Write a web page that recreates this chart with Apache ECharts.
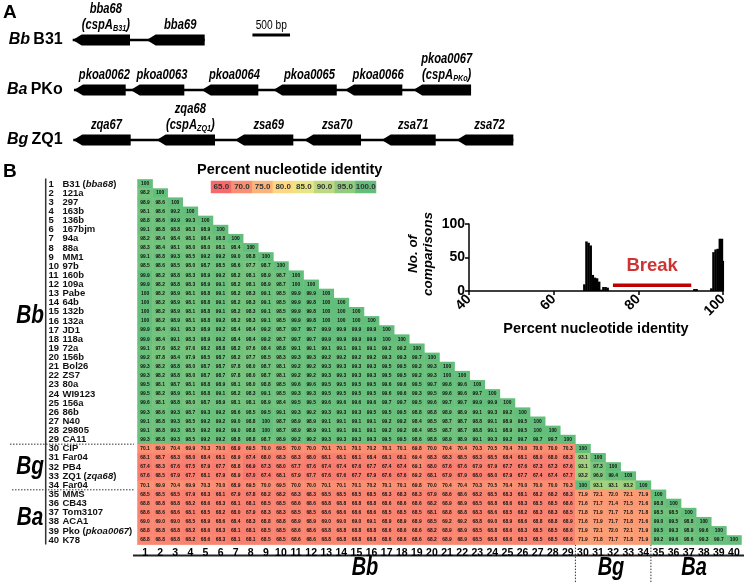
<!DOCTYPE html>
<html><head><meta charset="utf-8">
<script src="https://cdn.jsdelivr.net/npm/echarts@6/dist/echarts.min.js"></script>
<style>html,body{margin:0;padding:0;background:#fff}#c{width:744px;height:583px}</style>
</head><body><div id="c"></div>
<script>
const F = '"Liberation Sans", Arial, Helvetica, sans-serif';

// ---------- Panel A : gene maps (positions in bp) ----------
const operonRows = ['Bb|B31', 'Ba|PKo', 'Bg|ZQ1'];
const backboneStart = [0, 17, 8];
const backboneEnd = [1755, 5297, 5859];
const geneNames = ['bba68','bba69','pkoa0062','pkoa0063','pkoa0064','pkoa0065','pkoa0066','pkoa0067','zqa67','zqa68','zsa69','zsa70','zsa71','zsa72'];
const geneCspA  = ['B31','','','','','','','PKo','','ZQ1','','','',''];
const geneRow   = [0,0,1,1,1,1,1,1,2,2,2,2,2,2];
const geneStart = [0,984,17,771,1715,2668,3621,4529,8,1117,2158,3080,4109,5106];
const geneEnd   = [762,1755,705,1484,2468,3511,4383,5297,771,1892,2934,3834,4827,5859];
const scaleBarBp = [2390, 2890];
const scaleBarLabel = '500 bp';

// ---------- Panel B : identity matrix ----------
const strainNames = ['B31','121a','297','163b','136b','167bjm','94a','88a','MM1','97b','160b','109a','Pabe','64b','132b','132a','JD1','118a','72a','156b','Bol26','ZS7','80a','WI9123','156a','86b','N40','29805','CA11','CIP','Far04','PB4','ZQ1','Far04','MMS','CB43','Tom3107','ACA1','Pko','K78'];
const strainGenes = ['bba68','','','','','','','','','','','','','','','','','','','','','','','','','','','','','','','','zqa68','','','','','','pkoa0067',''];
const identityRows = [
[100],
[98.2,100],
[98.9,98.6,100],
[98.1,98.6,99.2,100],
[98.8,98.6,99.9,99.3,100],
[99.1,98.8,98.8,98.3,98.9,100],
[98.2,98.4,98.4,98.1,98.4,98.8,100],
[98.3,98.4,98.1,98.0,98.0,98.1,98.4,100],
[99.1,98.8,99.3,98.5,99.2,99.2,99.0,98.8,100],
[98.5,98.6,98.5,98.0,98.7,98.5,98.6,97.7,98.7,100],
[99.9,98.2,98.8,98.3,98.9,99.2,98.2,98.1,98.9,98.7,100],
[99.9,98.2,98.8,98.3,98.9,99.1,98.2,98.1,98.9,98.7,100,100],
[100,98.2,98.9,98.1,98.8,99.1,98.2,98.3,99.1,98.5,99.9,99.9,100],
[100,98.2,98.9,98.1,98.8,99.1,98.2,98.3,99.1,98.5,99.9,99.8,100,100],
[100,98.2,98.9,98.1,98.8,99.1,98.2,98.3,99.1,98.5,99.9,99.8,100,100,100],
[100,98.2,98.9,98.1,98.8,99.2,98.2,98.3,99.1,98.5,99.9,99.8,100,100,100,100],
[99.9,98.4,99.1,98.3,98.9,99.2,98.4,98.4,99.2,98.7,99.7,99.7,99.9,99.9,99.9,99.9,100],
[99.9,98.4,99.1,98.3,98.9,99.2,98.4,98.4,99.2,98.7,99.7,99.7,99.9,99.9,99.9,99.9,100,100],
[99.1,97.6,98.2,97.6,98.2,98.8,98.2,97.6,98.4,98.8,99.1,99.1,99.1,99.1,99.1,99.1,99.2,99.2,100],
[99.2,97.8,98.4,97.9,98.5,98.7,98.2,97.7,98.5,98.3,99.3,99.3,99.2,99.2,99.2,99.2,99.3,99.3,99.7,100],
[99.3,98.2,98.8,98.0,98.7,98.7,97.8,98.0,98.7,98.1,99.2,99.2,99.3,99.3,99.3,99.3,99.5,99.5,99.2,99.3,100],
[99.3,98.2,98.8,98.0,98.7,98.7,97.8,98.0,98.7,98.1,99.2,99.2,99.3,99.3,99.3,99.3,99.5,99.5,99.2,99.3,100,100],
[99.5,98.1,98.7,98.1,98.8,98.9,98.1,98.0,98.8,98.5,99.6,99.6,99.5,99.5,99.5,99.5,99.6,99.6,99.5,99.7,99.6,99.6,100],
[99.5,98.2,98.9,98.1,98.8,99.1,98.2,98.3,99.1,98.5,99.3,99.3,99.5,99.5,99.5,99.5,99.6,99.6,99.3,99.5,99.6,99.6,99.7,100],
[99.6,98.1,98.8,98.0,98.7,98.9,98.1,98.1,98.9,98.4,99.5,99.5,99.6,99.6,99.6,99.6,99.7,99.7,99.5,99.6,99.7,99.7,99.9,99.9,100],
[99.3,98.6,99.3,98.7,99.3,99.2,98.6,98.5,99.5,99.1,99.3,99.2,99.3,99.3,99.3,99.5,99.5,99.5,98.8,98.8,98.9,98.9,99.1,99.3,99.2,100],
[99.1,98.8,99.3,98.5,99.2,99.2,99.0,98.8,100,98.7,98.9,98.9,99.1,99.1,99.1,99.1,99.2,99.2,98.4,98.5,98.7,98.7,98.8,99.1,98.9,99.5,100],
[99.1,98.8,99.3,98.5,99.2,99.2,99.0,98.8,100,98.7,98.9,98.9,99.1,99.1,99.1,99.1,99.2,99.2,98.4,98.5,98.7,98.7,98.8,99.1,98.9,99.5,100,100],
[99.3,98.8,99.3,98.5,99.2,99.2,98.8,98.8,98.7,98.9,99.2,99.2,99.3,99.3,99.3,99.3,99.5,99.5,98.6,98.8,98.9,98.9,99.1,99.3,99.2,99.7,99.7,99.7,100],
[70.1,69.9,70.4,69.9,70.3,70.0,68.9,69.5,70.0,69.5,70.0,70.0,70.1,70.1,70.1,70.2,70.1,70.1,69.8,70.0,70.4,70.4,70.3,70.5,70.4,70.0,70.0,70.0,70.3,100],
[68.1,68.7,68.3,68.0,68.4,68.1,68.9,67.4,68.0,68.3,68.3,68.0,68.1,68.1,68.1,68.4,68.1,68.1,69.4,68.3,68.3,68.5,68.3,68.5,68.4,68.1,68.0,68.0,68.3,93.1,100],
[67.4,68.3,67.6,67.5,67.9,67.7,68.8,66.9,67.3,68.0,67.7,67.6,67.4,67.4,67.6,67.7,67.4,67.4,69.1,68.0,67.6,67.6,67.9,67.9,67.7,67.6,67.3,67.3,67.6,93.1,97.3,100],
[67.6,68.5,67.9,67.7,68.1,67.9,68.9,67.0,67.4,68.1,67.9,67.7,67.6,67.6,67.7,67.9,67.6,67.6,69.2,68.1,67.9,67.9,68.0,68.0,67.9,67.7,67.4,67.4,67.7,93.2,96.9,99.4,100],
[70.1,69.9,70.4,69.9,70.3,70.0,68.9,69.5,70.0,69.5,70.0,70.0,70.1,70.1,70.1,70.2,70.1,70.1,69.8,70.0,70.4,70.4,70.3,70.5,70.4,70.0,70.0,70.0,70.3,100,93.1,93.1,93.2,100],
[68.5,68.5,68.5,67.9,68.3,68.1,67.9,67.8,68.2,68.2,68.3,68.3,68.5,68.5,68.5,68.5,68.3,68.3,68.3,67.9,68.6,68.6,68.2,68.5,68.3,68.1,68.2,68.2,68.3,71.9,72.1,72.0,72.1,71.9,100],
[68.8,68.8,68.8,68.2,68.6,68.3,68.1,68.1,68.5,68.5,68.6,68.6,68.8,68.8,68.8,68.8,68.6,68.6,68.6,68.2,68.9,68.9,68.5,68.8,68.6,68.3,68.5,68.5,68.6,71.6,71.7,71.4,71.5,71.6,98.8,100],
[68.6,68.6,68.6,68.1,68.5,68.2,68.0,67.9,68.3,68.3,68.5,68.5,68.6,68.6,68.6,68.6,68.5,68.5,68.5,68.1,68.8,68.8,68.3,68.6,68.5,68.2,68.3,68.3,68.5,71.8,71.9,71.7,71.8,71.8,98.5,98.5,100],
[69.0,69.0,69.0,68.5,68.9,68.6,68.4,68.3,68.8,68.8,68.9,68.9,69.0,69.0,69.0,69.1,68.9,68.9,68.9,68.5,69.2,69.2,68.8,69.0,68.9,68.6,68.8,68.8,68.9,71.6,71.9,71.7,71.8,71.6,99.0,99.5,98.8,100],
[68.8,68.8,68.8,68.2,68.6,68.3,68.1,68.1,68.5,68.5,68.6,68.6,68.8,68.8,68.8,68.8,68.6,68.6,68.6,68.2,68.9,68.9,68.5,68.8,68.6,68.3,68.5,68.5,68.6,71.9,72.1,72.0,72.1,71.9,99.5,99.3,98.9,99.6,100],
[68.8,68.8,68.8,68.2,68.6,68.3,68.1,68.1,68.5,68.5,68.6,68.6,68.8,68.8,68.8,68.8,68.6,68.6,68.6,68.2,68.9,68.9,68.5,68.8,68.6,68.3,68.5,68.5,68.6,71.9,71.8,71.7,71.8,71.9,99.2,99.6,98.6,99.3,99.7,100]
];
const groupNames = ['Bb','Bg','Ba'];
const groupEndRow = [29, 34, 40];
const legendSteps = [65,70,75,80,85,90,95,100];
const colorStops = ['#F8696B','#FFEB84','#63BE7B'];

// ---------- inset histogram ----------
const histX = [67.25,67.75,68.25,68.75,69.25,69.75,70.25,70.75,71.25,71.75,72.25,72.75,93.25,93.75,97.25,97.75,98.25,98.75,99.25,99.75,100];
const histCount = [10,74,72,68,24,20,19,14,2,6,6,5,3,3,4,58,62,63,78,78,45];
const breakSpan = [74, 92.5];
const breakLevel = 8.5;

// ---------- layout ----------
const HM = {left:137.5, top:179.4, width:604, height:365.2};
const cellW = HM.width / 40, cellH = HM.height / 40;
const HI = {left:469, top:224, width:254, height:67};
const NARROW = 0.8;
const RED = '#C00000';

const heatData = [];
identityRows.forEach((row, i) => row.forEach((v, j) => heatData.push([j, i, v])));
const fmt = v => (v === 100 ? '100' : v.toFixed(1));

const richA = {
  a: {fontFamily:F, fontSize:14, fontWeight:'bold', fontStyle:'italic', fill:'#000', lineHeight:16},
  s: {fontFamily:F, fontSize:9, fontWeight:'bold', fontStyle:'italic', fill:'#000', verticalAlign:'bottom', lineHeight:16}
};

const chart = echarts.init(document.getElementById('c'));
const boldBlack = {fontFamily:F, fontWeight:'bold', color:'#000'};
const narrowText = (txt, x, y, font) => ({type:'text', x:x, y:y, scaleX:NARROW,
  style:{text:txt, x:0, y:0, align:'center', verticalAlign:'middle', fill:'#000', font:font}});

const option = {
  animation: false,
  textStyle: {fontFamily: F},
  title: [
    {text:'A', left:3, top:3, padding:0, textStyle:{...boldBlack, fontSize:19}},
    {text:'B', left:3, top:162, padding:0, textStyle:{...boldBlack, fontSize:19}},
    {text:'Percent nucleotide identity', left:197, top:162, padding:0, textStyle:{...boldBlack, fontSize:14.5}}
  ],
  grid: [
    {left:72.7, top:15, width:451.2, height:150},
    {left:HM.left, top:HM.top, width:HM.width, height:HM.height},
    {left:211, top:181, width:165, height:12},
    {left:HI.left, top:HI.top, width:HI.width, height:HI.height}
  ],
  xAxis: [
    {gridIndex:0, type:'value', min:0, max:6000, show:false},
    {gridIndex:1, type:'category', data: strainNames.map((s,i)=>String(i+1)),
     axisLine:{show:false}, axisTick:{show:false}, splitLine:{show:false},
     axisLabel:{interval:0, margin:3, fontSize:10.5, fontWeight:'bold', color:'#000', fontFamily:F}},
    {gridIndex:2, type:'category', data: legendSteps.map(String), show:false},
    {gridIndex:3, type:'value', min:40, max:100, interval:20,
     axisLine:{lineStyle:{color:'#000', width:1.5}}, axisTick:{show:true, length:4, lineStyle:{color:'#000', width:1.5}},
     splitLine:{show:false},
     axisLabel:{rotate:45, margin:6, fontSize:14, fontWeight:'bold', color:'#000', fontFamily:F},
     name:'Percent nucleotide identity', nameLocation:'middle', nameGap:30,
     nameTextStyle:{fontSize:14.5, fontWeight:'bold', color:'#000', fontFamily:F}}
  ],
  yAxis: [
    {gridIndex:0, type:'category', inverse:true, data: operonRows,
     axisLine:{show:false}, axisTick:{show:false},
     axisLabel:{margin:10, formatter: v => { const p = v.split('|'); return '{i|' + p[0] + '} {r|' + p[1] + '}'; },
       rich:{i:{fontFamily:F, fontSize:16, fontWeight:'bold', fontStyle:'italic', color:'#000'},
             r:{fontFamily:F, fontSize:16, fontWeight:'bold', color:'#000'}}}},
    {gridIndex:1, type:'category', inverse:true, data: strainNames,
     axisLine:{show:false}, axisTick:{show:false},
     axisLabel:{interval:0, align:'left', margin: HM.left - 48.5,
       formatter:(v, idx) => '{n|' + (idx+1) + '}{t|' + v + '}' + (strainGenes[idx] ? '{t| (}{g|' + strainGenes[idx] + '}{t|)}' : ''),
       rich:{n:{width:14, fontFamily:F, fontSize:9.5, fontWeight:'bold', color:'#111'},
             t:{fontFamily:F, fontSize:9.5, fontWeight:'bold', color:'#111'},
             g:{fontFamily:F, fontSize:9.5, fontWeight:'bold', fontStyle:'italic', color:'#111'}}}},
    {gridIndex:2, type:'category', data:['k'], show:false},
    {gridIndex:3, type:'value', min:0, max:100, interval:50,
     axisLine:{show:true, lineStyle:{color:'#000', width:1.5}}, axisTick:{show:true, length:4, lineStyle:{color:'#000', width:1.5}},
     splitLine:{show:false},
     axisLabel:{margin:4, fontSize:14, fontWeight:'bold', color:'#000', fontFamily:F}}
  ],
  visualMap: {
    type:'continuous', show:false, min:65, max:100, dimension:2, seriesIndex:[3,4],
    inRange:{color: colorStops}
  },
  series: [
    { // backbone lines
      type:'custom', xAxisIndex:0, yAxisIndex:0, clip:false,
      data: operonRows.map((r,i)=>[backboneStart[i], backboneEnd[i], i]),
      encode:{x:[0,1], y:2},
      renderItem:(params, api) => {
        const a = api.coord([api.value(0), api.value(2)]);
        const b = api.coord([api.value(1), api.value(2)]);
        return {type:'line', shape:{x1:a[0], y1:a[1], x2:b[0], y2:b[1]}, style:{stroke:'#000', lineWidth:2.5}};
      }
    },
    { // genes
      type:'custom', xAxisIndex:0, yAxisIndex:0, clip:false,
      data: geneNames.map((g,i)=>[geneStart[i], geneEnd[i], geneRow[i], i]),
      encode:{x:[0,1], y:2},
      renderItem:(params, api) => {
        const i = api.value(3);
        const s = api.coord([api.value(0), api.value(2)]);
        const e = api.coord([api.value(1), api.value(2)]);
        const h = 5.5, head = 9, y = s[1];
        let txt = '{a|' + geneNames[i] + '}';
        if (geneCspA[i]) txt += '\n{a|(cspA}{s|' + geneCspA[i] + '}{a|)}';
        return {type:'group', children:[
          {type:'polygon', shape:{points:[[s[0], y],[s[0]+head, y-h],[e[0], y-h],[e[0], y+h],[s[0]+head, y+h]]}, style:{fill:'#000'}},
          {type:'text', x:(s[0]+head+e[0])/2, y:y-h-1, scaleX:NARROW,
           style:{text:txt, x:0, y:0, align:'center', verticalAlign:'bottom', rich:richA, fill:'#000', font:'bold italic 14px ' + F}}
        ]};
      }
    },
    { // scale bar
      type:'custom', xAxisIndex:0, yAxisIndex:0, clip:false,
      data:[[scaleBarBp[0], scaleBarBp[1], 0]],
      encode:{x:[0,1], y:2},
      renderItem:(params, api) => {
        const a = api.coord([api.value(0), api.value(2)]);
        const b = api.coord([api.value(1), api.value(2)]);
        const y = a[1] - 5;
        return {type:'group', children:[
          {type:'line', shape:{x1:a[0], y1:y, x2:b[0], y2:y}, style:{stroke:'#000', lineWidth:3}},
          {type:'text', x:(a[0]+b[0])/2, y:y-3, scaleX:0.85,
           style:{text:scaleBarLabel, x:0, y:0, align:'center', verticalAlign:'bottom', fill:'#000', font:'12px ' + F}}
        ]};
      }
    },
    { // identity heatmap
      type:'heatmap', xAxisIndex:1, yAxisIndex:1, data: heatData,
      label:{show:true, formatter:p => fmt(p.value[2]), fontSize:4.9, fontWeight:'bold', color:'#111', fontFamily:F},
      itemStyle:{borderWidth:0}, emphasis:{disabled:true}
    },
    { // colour key
      type:'heatmap', xAxisIndex:2, yAxisIndex:2, data: legendSteps.map((v,i)=>[i,0,v]),
      label:{show:true, formatter:p => p.value[2].toFixed(1), fontSize:8, fontWeight:'bold', color:'#333', fontFamily:F},
      emphasis:{disabled:true}
    },
    { // histogram
      type:'bar', xAxisIndex:3, yAxisIndex:3, barWidth:2.5, itemStyle:{color:'#000'},
      data: histX.map((x,i)=>[x, histCount[i]])
    },
    { // break line
      type:'line', xAxisIndex:3, yAxisIndex:3, symbol:'none',
      lineStyle:{color:RED, width:3.5},
      data: breakSpan.map(x=>[x, breakLevel])
    },
    { // break label
      type:'scatter', xAxisIndex:3, yAxisIndex:3, symbolSize:0,
      data:[[(breakSpan[0]+breakSpan[1])/2, 37]],
      label:{show:true, position:'inside', formatter:'Break', fontSize:18.5, fontWeight:'bold', color:RED, fontFamily:F}
    }
  ],
  graphic: [
    {type:'line', shape:{x1:45.7, y1:HM.top - 1, x2:45.7, y2:HM.top + HM.height}, style:{stroke:'#333', lineWidth:1.5}},
    {type:'line', shape:{x1:10, y1:HM.top + groupEndRow[0]*cellH, x2:134, y2:HM.top + groupEndRow[0]*cellH}, style:{stroke:'#333', lineWidth:1, lineDash:[1.5,1.5]}},
    {type:'line', shape:{x1:12, y1:HM.top + groupEndRow[1]*cellH, x2:134, y2:HM.top + groupEndRow[1]*cellH}, style:{stroke:'#333', lineWidth:1, lineDash:[1.5,1.5]}},
    narrowText(groupNames[0], 30, 316, 'italic bold 26px ' + F),
    narrowText(groupNames[1], 30, 467, 'italic bold 26px ' + F),
    narrowText(groupNames[2], 30, 518, 'italic bold 26px ' + F),
    {type:'line', shape:{x1:133, y1:555.5, x2:744, y2:555.5}, style:{stroke:'#222', lineWidth:2}},
    {type:'line', shape:{x1:HM.left + groupEndRow[0]*cellW, y1:HM.top + HM.height, x2:HM.left + groupEndRow[0]*cellW, y2:583}, style:{stroke:'#333', lineWidth:1, lineDash:[1.5,1.5]}},
    {type:'line', shape:{x1:HM.left + groupEndRow[1]*cellW, y1:HM.top + HM.height, x2:HM.left + groupEndRow[1]*cellW, y2:583}, style:{stroke:'#333', lineWidth:1, lineDash:[1.5,1.5]}},
    narrowText(groupNames[0], 365, 568, 'italic bold 25px ' + F),
    narrowText(groupNames[1], 611, 568, 'italic bold 25px ' + F),
    narrowText(groupNames[2], 694, 568, 'italic bold 25px ' + F),
    {type:'text', rotation:Math.PI/2, x:421, y:254, style:{text:'No. of\ncomparisons', align:'center', verticalAlign:'middle', fill:'#000', font:'italic bold 13.5px ' + F, lineHeight:15}}
  ]
};
chart.setOption(option);
</script></body></html>
